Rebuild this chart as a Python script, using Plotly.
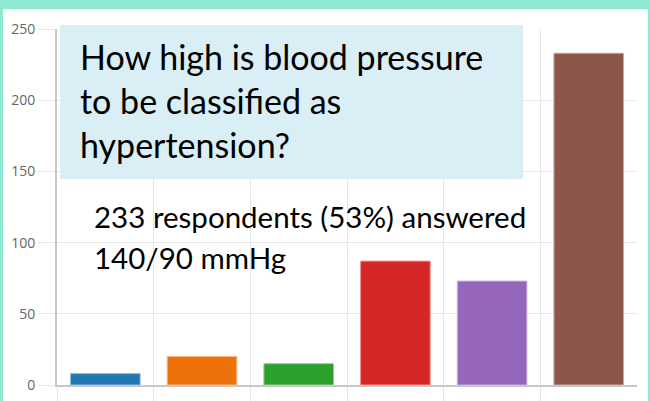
import plotly.graph_objects as go

# ---- data ----
categories = ["Option 1", "Option 2", "Option 3", "Option 4", "Option 5", "140/90 mmHg"]
respondents = [8, 20, 15, 87, 73, 233]
bar_colors = ["#1f77b4", "#ec7109", "#2ca02c", "#d62728", "#9467bd", "#8c564b"]
bar_edges = ["#8fbbda", "#f5b884", "#95cf95", "#ea9393", "#c9b3de", "#c5aaa5"]
y_ticks = [0, 50, 100, 150, 200, 250]
title_lines = ["How high is blood pressure", "to be classified as", "hypertension?"]
note_lines = ["233 respondents (53%) answered", "140/90 mmHg"]

W, H = 650, 401
L, R, T, B = 57, 13, 29, 16
PW, PH = W - L - R, H - T - B


def px(x):
    return (x - L) / PW


def py(y):
    return (H - B - y) / PH


fig = go.Figure()
fig.add_trace(go.Bar(
    x=categories, y=respondents,
    marker=dict(color=bar_colors, line=dict(color=bar_edges, width=1)),
    width=0.72, showlegend=False, hoverinfo="x+y",
))

shapes = []
# mint frame (top, left, right strips)
mint = "#8eebd3"
shapes.append(dict(type="rect", xref="paper", yref="paper", x0=px(0), x1=px(W), y0=py(9), y1=py(0),
                   fillcolor=mint, line=dict(width=0), layer="above"))
shapes.append(dict(type="rect", xref="paper", yref="paper", x0=px(0), x1=px(3), y0=py(H), y1=py(0),
                   fillcolor=mint, line=dict(width=0), layer="above"))
shapes.append(dict(type="rect", xref="paper", yref="paper", x0=px(648), x1=px(W), y0=py(H), y1=py(0),
                   fillcolor=mint, line=dict(width=0), layer="above"))
# question box
shapes.append(dict(type="rect", xref="paper", yref="paper", x0=px(60), x1=px(523), y0=py(179), y1=py(25),
                   fillcolor="#d9eef5", line=dict(width=0), layer="above"))

annotations = []
title_mid = [56, 100, 144]
for t, m in zip(title_lines, title_mid):
    annotations.append(dict(text=t, xref="paper", yref="paper", x=px(78), y=py(m),
                            xanchor="left", yanchor="middle", showarrow=False,
                            font=dict(family="Lato", size=34, color="#000000")))
note_mid = [216, 257]
for t, m in zip(note_lines, note_mid):
    annotations.append(dict(text=t, xref="paper", yref="paper", x=px(92), y=py(m),
                            xanchor="left", yanchor="middle", showarrow=False,
                            font=dict(family="Lato", size=29.5, color="#000000")))

fig.update_layout(
    width=W, height=H,
    margin=dict(l=L, r=R, t=T, b=B, pad=0, autoexpand=False),
    paper_bgcolor="#ffffff", plot_bgcolor="#ffffff",
    shapes=shapes, annotations=annotations,
    bargap=0.28,
    xaxis=dict(
        type="category", range=[-0.5, 5.499], automargin=False,
        showgrid=True, gridcolor="#e6e6e6", gridwidth=1,
        tickson="boundaries", ticks="outside", ticklen=16, tickcolor="#e6e6e6", tickwidth=1,
        showticklabels=False,
        showline=True, linecolor="#c8c8c8", linewidth=2, zeroline=False,
    ),
    yaxis=dict(
        range=[0, 250], tickvals=y_ticks, automargin=False,
        showgrid=True, gridcolor="#e6e6e6", gridwidth=1,
        ticks="outside", ticklen=17, tickcolor="#e6e6e6", tickwidth=1,
        tickfont=dict(family="Open Sans", size=14, color="#666666"),
        showline=True, linecolor="#c8c8c8", linewidth=2, zeroline=False,
    ),
)

fig.write_html("out.html", config={"displayModeBar": False},
               post_script="document.body.style.margin='0';document.body.style.overflow='hidden';")
